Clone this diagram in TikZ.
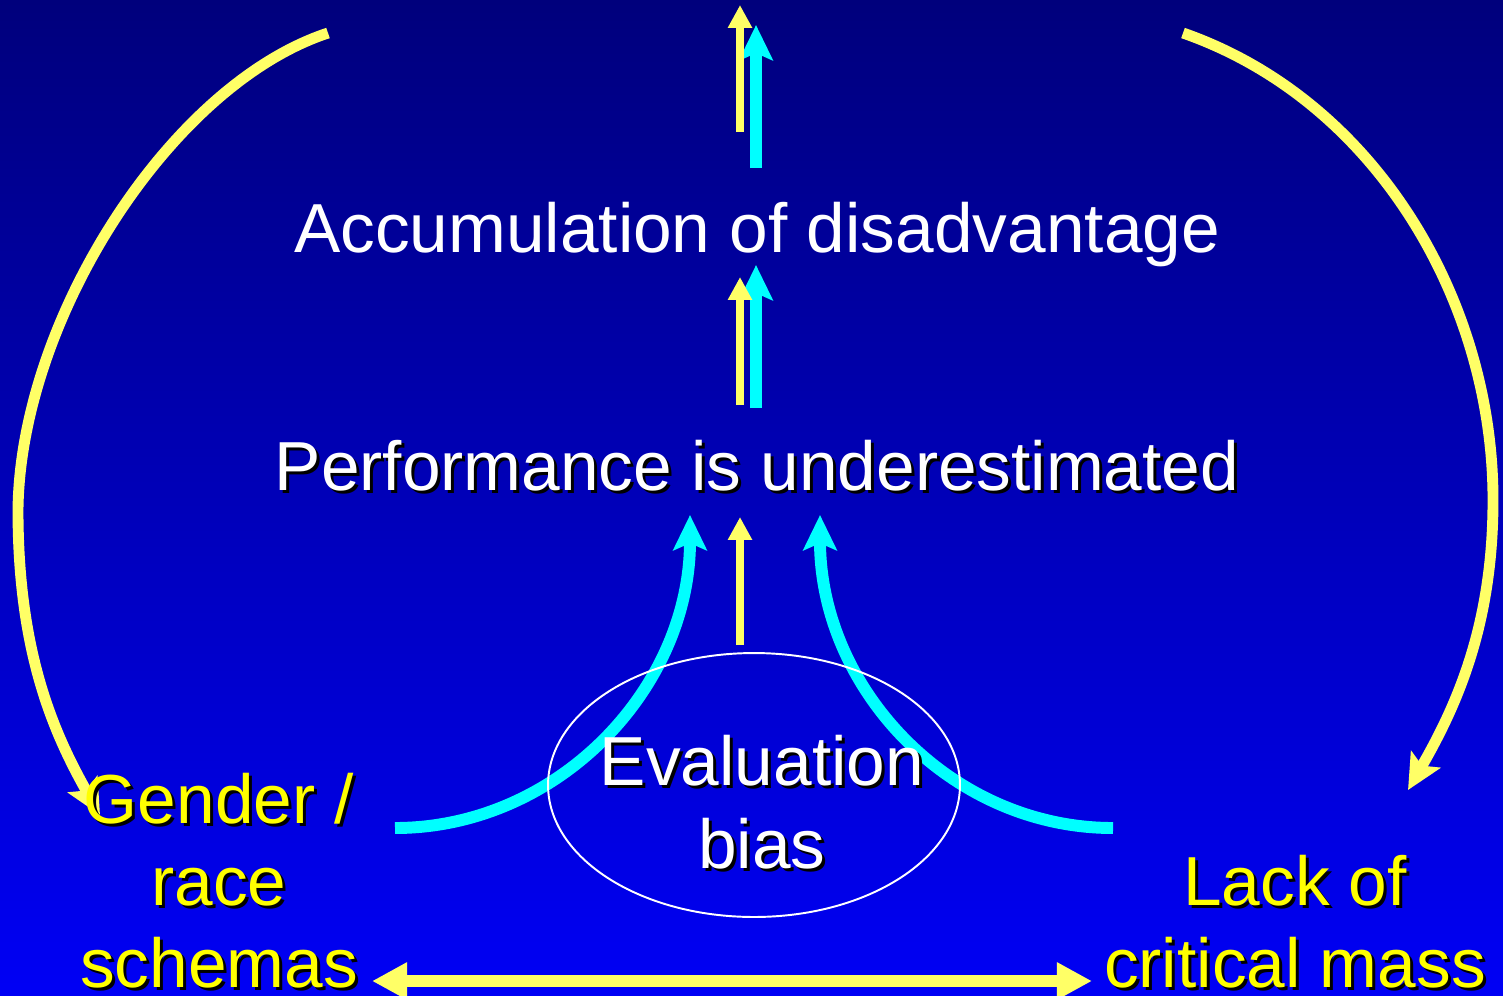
\documentclass[tikz,border=0pt]{standalone}
\usepackage{fontspec}
\setmainfont{Liberation Sans}
\usetikzlibrary{arrows.meta,calc,shapes.geometric}
\definecolor{bgtop}{HTML}{00007C}
\definecolor{bgbot}{HTML}{0000F5}
\definecolor{arrowyellow}{HTML}{FFFF66}
\definecolor{textyellow}{HTML}{FFFF00}
\definecolor{flowcyan}{HTML}{00FFFF}
\pgfdeclarelayer{canvas}
\pgfdeclarelayer{links}
\pgfsetlayers{canvas,links,main}
\tikzset{
  title/.style={font=\fontsize{39.5}{46.5}\selectfont,text=white,
                inner sep=0pt,anchor=base,align=center},
  hilite/.style={title,text=textyellow},
  biasring/.style={ellipse,draw=white,line width=1.1pt,inner sep=0pt,
                   minimum width=8.24cm,minimum height=5.28cm},
  yarr/.style={-{Triangle[length=13pt,width=13pt]},line width=4pt,
               draw=arrowyellow},
  carr/.style={-{Stealth[length=20pt,width=19pt,inset=4pt]},line width=6.8pt,
               draw=flowcyan},
  arcarr/.style={-{Stealth[length=20pt,width=19pt,inset=4pt]},line width=6.2pt,
                 draw=arrowyellow},
  dblarr/.style={{Triangle[length=20pt,width=20pt]}-{Triangle[length=20pt,width=20pt]},
                 line width=6.8pt,draw=arrowyellow}
}
% text with a dark drop shadow
\newcommand{\shadowed}[4]{%
  \node[#1,text=black,xshift=1.7pt,yshift=-1.7pt] at #3 {#4};
  \node[#1] (#2) at #3 {#4};}

\begin{document}
\begin{tikzpicture}[x=0.02cm,y=-0.02cm]
  \begin{pgfonlayer}{canvas}
    \shade[top color=bgtop,bottom color=bgbot] (0,0) rectangle (1503,995);
  \end{pgfonlayer}
  \useasboundingbox (0,0) rectangle (1503,995);

  % base of a multi-line node = base of its last line
  \node[title] (accum) at (757,252) {Accumulation of disadvantage};
  \shadowed{title}{perf}{(757,490)}{Performance is underestimated};
  \node[biasring] (bias) at (754,785) {};
  \shadowed{title,font=\fontsize{39.5}{47}\selectfont}{evaltext}{(762,868)}{Evaluation\\bias};
  \shadowed{hilite}{schemas}{(219,987)}{Gender /\\race\\schemas};
  \shadowed{hilite}{critmass}{(1295,987)}{Lack of\\critical mass};

  \coordinate (arcL) at (328,33);
  \coordinate (arcR) at (1183,33);
  \coordinate (cyL) at (395,828);
  \coordinate (cyR) at (1113,828);
  \coordinate (topY) at (740,5);
  \coordinate (topC) at (756,25);

  \begin{pgfonlayer}{links}
    \draw[arcarr] (arcL) .. controls (170,85) and (20,320) .. (18,510)
      .. controls (18,650) and (52,730) .. ([shift={(-119,-172)}]schemas.base);
    \draw[arcarr] (arcR) .. controls (1375,100) and (1493,300) .. (1493,500)
      .. controls (1493,620) and (1460,700) .. ([shift={(113,-197)}]critmass.base);
    \draw[carr] (cyL) .. controls +(163,0) and +(0,173) .. ([shift={(-67,25)}]perf.base);
    \draw[carr] (cyR) .. controls +(-163,0) and +(0,173) .. ([shift={(63,25)}]perf.base);
    \draw[carr] ([shift={(-1,-82)}]perf.base) -- ([shift={(-1,13)}]accum.base);
    \draw[carr] ([shift={(-1,-84)}]accum.base) -- (topC);
    \draw[yarr] ([shift={(-17,-85)}]perf.base) -- ([shift={(-17,25)}]accum.base);
    \draw[yarr] ([shift={(-17,-120)}]accum.base) -- (topY);
    \draw[yarr] ([shift={(-14,-140)}]bias.center) -- ([shift={(-17,27)}]perf.base);
    \draw[dblarr] ([shift={(153,-6)}]schemas.base) -- ([shift={(-203,-6)}]critmass.base);
  \end{pgfonlayer}
\end{tikzpicture}
\end{document}
